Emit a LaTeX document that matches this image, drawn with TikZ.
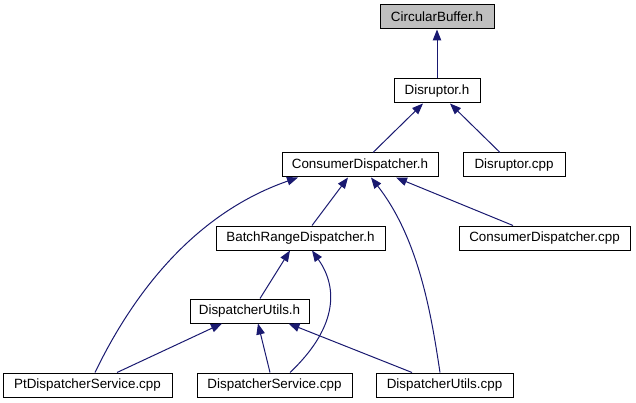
\documentclass[tikz,border=0pt]{standalone}
\usepackage{fontspec}
\setmainfont{Liberation Sans}
\usetikzlibrary{arrows.meta,calc}
\definecolor{edgeblue}{HTML}{191970}
\definecolor{boxgray}{HTML}{BFBFBF}
\tikzset{
  filebox/.style={draw=black, line width=1pt, fill=white, rectangle, inner sep=0pt,
    minimum height=24pt, font=\fontsize{13.4}{16}\selectfont},
  incl/.style={draw=edgeblue, line width=1pt, -{Triangle[length=11pt,width=8.5pt]}},
}
\begin{document}
\begin{tikzpicture}[x=1pt,y=-1pt]
\useasboundingbox (0,0) rectangle (636,403);
\node[filebox, fill=boxgray, minimum width=114pt] (cb) at (437,17) {CircularBuffer.h};
\node[filebox, minimum width=86pt] (dh) at (437,91) {Disruptor.h};
\node[filebox, minimum width=156pt] (cdh) at (360,165) {ConsumerDispatcher.h};
\node[filebox, minimum width=102pt] (dcpp) at (514,165) {Disruptor.cpp};
\node[filebox, minimum width=169pt] (brd) at (300.5,238) {BatchRangeDispatcher.h};
\node[filebox, minimum width=171pt] (cdcpp) at (544.5,238) {ConsumerDispatcher.cpp};
\node[filebox, minimum width=119pt] (duh) at (249.5,311) {DispatcherUtils.h};
\node[filebox, minimum width=169pt] (pt) at (87.5,385) {PtDispatcherService.cpp};
\node[filebox, minimum width=155pt] (ds) at (274.5,385) {DispatcherService.cpp};
\node[filebox, minimum width=137pt] (ducpp) at (444.5,385) {DispatcherUtils.cpp};
% edges
\draw[incl] (dh.north) -- (cb.south);
\draw[incl] ($(cdh.north)+(13,0)$) -- ($(dh.south)+(-14,0)$);
\draw[incl] ($(dcpp.north)+(-14,0)$) -- ($(dh.south)+(13,0)$);
\draw[incl] ($(brd.north)+(11.5,0)$) -- ($(cdh.south)+(-12,0)$);
\draw[incl] ($(pt.north)+(7.5,0)$) .. controls (130,300) and (190,215) .. ($(cdh.south)+(-62,0)$);
\draw[incl] ($(ducpp.north)+(-4.5,0)$) .. controls (432,320) and (420,240) .. ($(cdh.south)+(11,0)$);
\draw[incl] ($(cdcpp.north)+(-31.5,0)$) -- ($(cdh.south)+(36,0)$);
\draw[incl] ($(duh.north)+(10.5,0)$) -- ($(brd.south)+(-10.5,0)$);
\draw[incl] ($(ds.north)+(15.5,0)$) .. controls (335,330) and (340,290) .. ($(brd.south)+(11.5,0)$);
\draw[incl] ($(pt.north)+(29.5,0)$) -- ($(duh.south)+(-27.5,0)$);
\draw[incl] ($(ds.north)+(-4.5,0)$) -- ($(duh.south)+(8.5,0)$);
\draw[incl] ($(ducpp.north)+(-32.5,0)$) -- ($(duh.south)+(39,0)$);
\end{tikzpicture}
\end{document}
